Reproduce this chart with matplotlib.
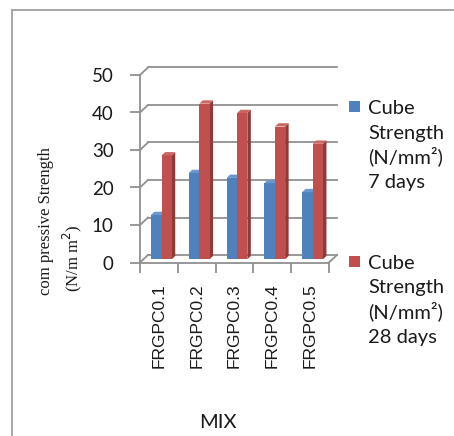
import matplotlib
matplotlib.use('Agg')
import matplotlib.pyplot as plt
from matplotlib.patches import Polygon, Rectangle
from matplotlib.lines import Line2D

mixes = ['FRGPC0.1', 'FRGPC0.2', 'FRGPC0.3', 'FRGPC0.4', 'FRGPC0.5']
cube_7 = [11.8, 23.0, 21.7, 20.3, 17.9]
cube_28 = [27.7, 41.5, 39.0, 35.4, 30.8]
yticks = [0, 10, 20, 30, 40, 50]
legend_7 = ['Cube', 'Strength', '(N/mm²)', '7 days']
legend_28 = ['Cube', 'Strength', '(N/mm²)', '28 days']

W, H = 454, 436
fig = plt.figure(figsize=(W / 100, H / 100), dpi=100)
fig.patch.set_facecolor('white')

# outer frame (top and left edges show)
fig.add_artist(Line2D([12 / W, 1], [1 - 10 / H, 1 - 10 / H], color='#a6a6a6', lw=1.4))
fig.add_artist(Line2D([12 / W, 12 / W], [0, 1 - 10 / H], color='#a6a6a6', lw=1.4))

ax = fig.add_axes([140 / W, 1 - 262.5 / H, 189 / W, 187.5 / H])
ax.set_xlim(0, 5)
ax.set_ylim(0, 50)
for s in ax.spines.values():
    s.set_visible(False)

grid = '#909090'
DX, DY = 0.21, 2.0  # depth of the 3d box in data units

# back wall gridlines + left wall diagonals
for v in yticks:
    ax.add_line(Line2D([DX, 5 + DX], [v + DY, v + DY], color=grid, lw=1.3, clip_on=False))
    ax.add_line(Line2D([0, DX], [v, v + DY], color=grid, lw=1.3, clip_on=False))
# left axis and floor
ax.add_line(Line2D([0, 0], [0, 50], color=grid, lw=1.3, clip_on=False))
ax.add_line(Line2D([0, 5], [0, 0], color=grid, lw=1.3, clip_on=False))
ax.add_line(Line2D([5, 5 + DX], [0, DY], color=grid, lw=1.3, clip_on=False))

# bars
f0, fd = 0.43, 0.44
base = f0 * DY
sdx, sdy = fd * DX, fd * DY

def bar3d(x0, w, val, front, side, top, z):
    ax.bar(x0, val, width=w, bottom=base, align='edge', color=front, zorder=z, linewidth=0)
    x1, t = x0 + w, base + val
    ax.add_patch(Polygon([(x1, base), (x1 + sdx, base + sdy), (x1 + sdx, t + sdy), (x1, t)],
                         closed=True, facecolor=side, edgecolor='none', zorder=z - 0.5, clip_on=False))
    ax.add_patch(Polygon([(x0, t), (x0 + sdx, t + sdy), (x1 + sdx, t + sdy), (x1, t)],
                         closed=True, facecolor=top, edgecolor='none', zorder=z, clip_on=False))

for i in range(len(mixes)):
    bar3d(i + 0.29, 0.28, cube_7[i], '#4f81bd', '#3a6290', '#6b97cc', 3)
    bar3d(i + 0.57, 0.27, cube_28[i], '#c0504d', '#8f3a38', '#cc6663', 4)

# ticks
ax.set_yticks(yticks)
ax.set_yticklabels([str(v) for v in yticks], fontfamily='Lato', fontsize=13.5, color='#1a1a1a')
ax.tick_params(axis='y', length=7, width=1.3, color=grid, pad=12)
ax.set_xticks([i + 0.5 for i in range(len(mixes))])
ax.set_xticklabels(mixes, rotation=90, fontfamily='Liberation Sans', fontsize=12.5, color='#1a1a1a')
ax.tick_params(axis='x', length=0, pad=15)
ax.set_xticks(range(len(mixes) + 1), minor=True)
ax.tick_params(axis='x', which='minor', length=7, width=1.3, color=grid)

# axis titles
fig.text(46 / W, 1 - 295 / H, 'com pressive Strength', rotation=90, ha='center', va='bottom',
         fontfamily='Liberation Serif', fontsize=12, color='#1a1a1a')
fig.text(72 / W, 1 - 292 / H, '(N/m m$^{2}$)', rotation=90, ha='center', va='bottom',
         fontfamily='Liberation Serif', fontsize=12, color='#1a1a1a')
fig.text(218 / W, 1 - 422 / H, 'MIX', ha='center', va='center',
         fontfamily='Lato', fontsize=14.5, color='#1a1a1a')

# legend
for top_y, color, lines in [(101, '#4f81bd', legend_7), (256, '#c0504d', legend_28)]:
    fig.add_artist(Rectangle((349 / W, 1 - (top_y + 11) / H), 11 / W, 11 / H,
                             facecolor=color, edgecolor='none', transform=fig.transFigure))
    for k, line in enumerate(lines):
        fig.text(368 / W, 1 - (top_y + 13 + 24.5 * k) / H, line, ha='left', va='baseline',
                 fontfamily='Lato', fontsize=14.5, color='#1a1a1a')

fig.savefig('out.png', dpi=100)
